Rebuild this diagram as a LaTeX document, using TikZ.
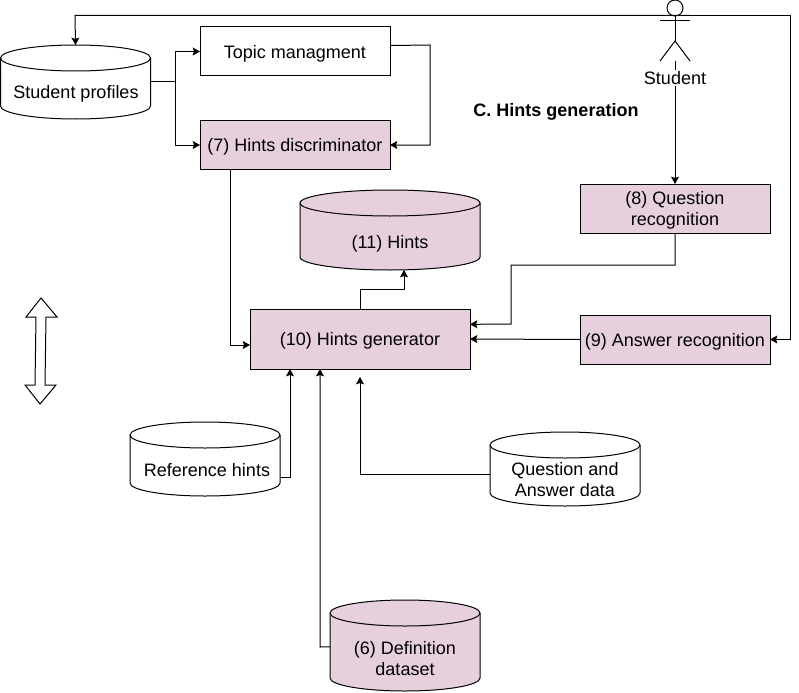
\documentclass[tikz,border=0pt]{standalone}
\usepackage{fontspec}
\setmainfont{Liberation Sans}
\usetikzlibrary{arrows.meta}
\definecolor{mauve}{HTML}{E6D0DE}
\tikzset{
  every node/.style={font=\fontsize{13.5}{15.75}\selectfont},
  box/.style={draw,outer sep=0pt,inner sep=1pt,align=center,text depth=0pt},
  link/.style={-{Stealth[length=5.5pt,width=6pt,inset=1pt]},line width=0.75pt},
}
% name, centre, width, height, fill, text position, text
\newcommand{\dbase}[7]{%
  \node[minimum width=#3,minimum height=#4,outer sep=0pt,inner sep=0pt] (#1) at (#2) {};
  \draw[fill=#5] ([yshift=-9.75pt]#1.north west)
    arc[start angle=180,end angle=0,x radius={0.5*#3},y radius=9.75pt]
    -- ([yshift=9.75pt]#1.south east)
    arc[start angle=0,end angle=-180,x radius={0.5*#3},y radius=9.75pt]
    -- cycle;
  \draw ([yshift=-9.75pt]#1.north east)
    arc[start angle=0,end angle=-180,x radius={0.5*#3},y radius=9.75pt];
  \node[align=center] (#1text) at (#6) {#7};
}
\begin{document}
\begin{tikzpicture}[x=0.75pt,y=-0.75pt,line width=0.75pt]
  \pgfmathsetmacro{\xstudent}{675}
  \pgfmathsetmacro{\ytop}{15.5}
  \useasboundingbox (0,0) rectangle (799,692);
  % stores
  \dbase{profiles}{75.5,82}{112.5pt}{55.5pt}{white}{76,94}{Student profiles}
  \dbase{hints}{390,230}{135pt}{60pt}{mauve}{390,244}{(11) Hints}
  \dbase{reference}{205,459}{112.5pt}{55.5pt}{white}{207,470}{Reference hints}
  \dbase{qa}{565,469}{112.5pt}{55.5pt}{white}{565,480}{Question and\\Answer data}
  \dbase{definition}{405,645.5}{112.5pt}{68.25pt}{mauve}{405,659}{(6) Definition\\dataset}
  % boxes
  \node[box,minimum width=142.5pt,minimum height=36.75pt] (topic) at (295,51.5) {Topic managment};
  \node[box,fill=mauve,minimum width=142.5pt,minimum height=36.75pt] (discriminator) at (295,145) {(7) Hints discriminator};
  \node[box,fill=mauve,minimum width=142.5pt,minimum height=36.75pt] (question) at (\xstudent,208.5) {(8) Question\\recognition};
  \node[box,fill=mauve,minimum width=142.5pt,minimum height=36.75pt] (answer) at (\xstudent,339.5) {(9) Answer recognition};
  \node[box,fill=mauve,minimum width=165pt,minimum height=45pt] (generator) at (360,339) {(10) Hints generator};
  \node[font=\fontsize{13.5}{15.75}\selectfont\bfseries] (title) at (556,112) {C. Hints generation};
  % student
  \coordinate (actorhip) at (\xstudent,41);
  \coordinate (actorfoot) at (\xstudent,61);
  \coordinate (actorside) at (690,\ytop);
  \coordinate (leftturn) at (75,\ytop);
  \coordinate (rightturn) at (790,\ytop);
  \draw (\xstudent,8) circle (8);
  \draw (\xstudent,16) -- (actorhip);
  \draw (660,20.5) -- (690,20.5);
  \draw (660,61) -- (actorhip) -- (690,61);
  % connectors
  \draw[link] (actorfoot) -- (question.north);
  \node[fill=white,inner sep=1pt] (student) at (\xstudent,78) {Student};
  \draw[link] (actorside) -- (leftturn) -- (profiles.north);
  \draw[link] (actorside) -- (rightturn) |- (answer.east);
  \draw[link] (profiles.east) -- (175,82) |- (topic.west);
  \draw[link] (profiles.east) -- (175,82) |- (discriminator.west);
  \draw[link] ([yshift=4.5pt]topic.east) -- (430,45) |- (discriminator.east);
  \draw[link] ([xshift=-48.75pt]discriminator.south) |- ([yshift=-4.5pt]generator.west);
  \draw[link] (generator.north) -- (360,289) -| ([xshift=10.5pt]hints.south);
  \draw[link] (question.south) -- (\xstudent,265) -| (511,324) -- ([yshift=11pt]generator.east);
  \draw[link] (answer.west) -- (generator.east);
  \draw[link] ([yshift=-13.5pt]reference.east) -- (290,477) -- (290,369);
  \draw[link] ([yshift=-1pt]definition.west) -- (320,647) -- (320,369);
  \coordinate (qaend) at (360,377);
  \draw[link] ([yshift=-3.75pt]qa.west) -| (qaend);
  % double arrow
  \draw (41,298) -- (57,317) -- (46,317) -- (45,385) -- (56,385) -- (40,404) -- (25,385) -- (35,385) -- (36,317) -- (26,317) -- cycle;
\end{tikzpicture}
\end{document}
